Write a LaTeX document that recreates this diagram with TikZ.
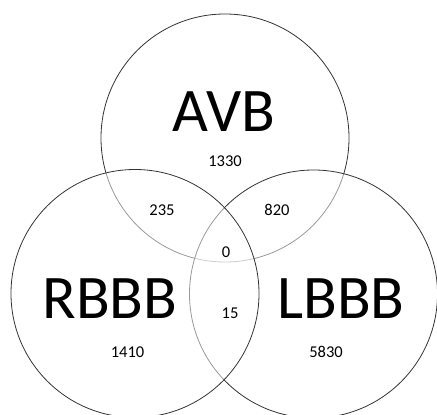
\documentclass[tikz,border=0pt]{standalone}
\usepackage{fontspec}
\setmainfont{Carlito}
\begin{document}
\begin{tikzpicture}[x=1pt,y=-1pt,
  setcircle/.style={circle, draw=black!80, line width=0.8pt, fill=white,
    fill opacity=0.5, draw opacity=1, inner sep=0pt, outer sep=0pt,
    minimum size=248pt},
  biglabel/.style={anchor=base, inner sep=0pt, font=\fontsize{62}{62}\selectfont},
  count/.style={anchor=base, inner sep=0pt, font=\fontsize{16.5}{16.5}\selectfont}]
  \clip (0,0) rectangle (437,415);
  \fill[white] (0,0) rectangle (437,415);
  % the three sets, drawn so that later outlines sit over earlier ones
  \node[setcircle] (avb) at (225,138) {};
  \node[setcircle] (lbbb) at (313.5,294) {};
  \node[setcircle] (rbbb) at (135,293.5) {};
  % set names
  \node[biglabel] (tavb) at (224,131) {AVB};
  \node[biglabel] (trbbb) at (110,318) {RBBB};
  \node[biglabel] (tlbbb) at (341,318) {LBBB};
  % region counts
  \node[count] (n1330) at (225,166) {1330};
  \node[count] (n235) at (162,215) {235};
  \node[count] (n820) at (277,215) {820};
  \node[count] (n0) at (226,257) {0};
  \node[count] (n15) at (230,318) {15};
  \node[count] (n1410) at (127.5,357.5) {1410};
  \node[count] (n5830) at (326,357.5) {5830};
\end{tikzpicture}
\end{document}
